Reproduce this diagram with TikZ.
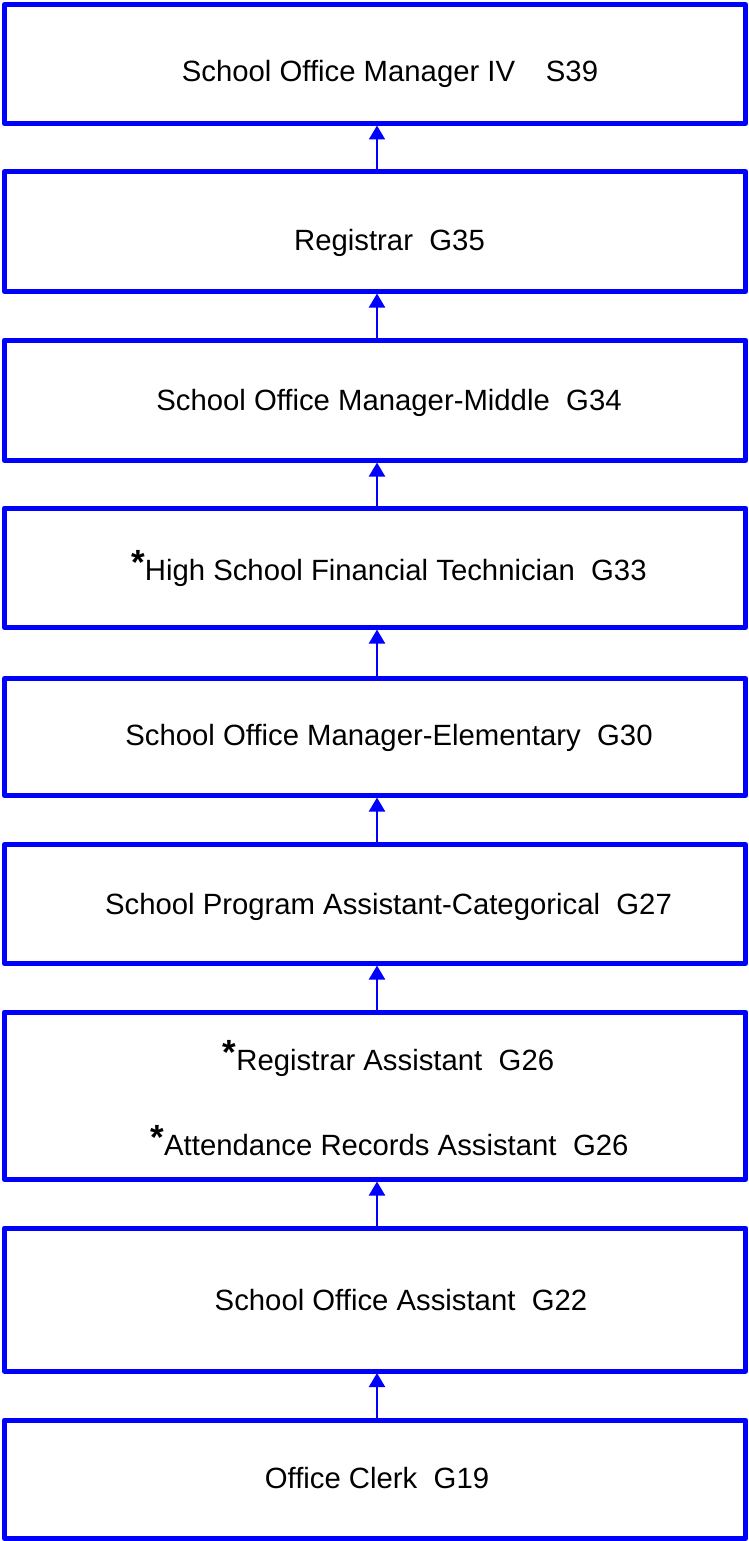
\documentclass[tikz,border=0pt]{standalone}
\usepackage{fontspec}
\setmainfont{Liberation Sans}
\usetikzlibrary{arrows.meta}
\definecolor{boxblue}{RGB}{0,0,255}
\newcommand{\mystar}{\raisebox{6pt}{\fontsize{35}{35}\selectfont\bfseries *}}
\newcommand{\gap}{\hspace{0.56em}}
\begin{document}
\begin{tikzpicture}[x=1pt,y=-1pt,
  box/.style={draw=boxblue,line width=5pt,line join=round,inner sep=0pt,outer sep=0pt,minimum width=741pt},
  lbl/.style={anchor=base,inner sep=0pt,font=\fontsize{29.3}{34}\selectfont},
  arr/.style={draw=boxblue,line width=2pt,-{Triangle[length=14pt,width=16pt]},shorten >=2pt}]
\useasboundingbox (0,0) rectangle (748,1541);
\node[box,minimum height=119pt] (b1) at (375,64) {};
\node[box,minimum height=120pt] (b2) at (375,231.5) {};
\node[box,minimum height=120.5pt] (b3) at (375,400.25) {};
\node[box,minimum height=119.5pt] (b4) at (375,567.75) {};
\node[box,minimum height=117pt] (b5) at (375,737) {};
\node[box,minimum height=119pt] (b6) at (375,904) {};
\node[box,minimum height=167.5pt] (b7) at (375,1095.75) {};
\node[box,minimum height=143pt] (b8) at (375,1299.5) {};
\node[box,minimum height=118.5pt] (b9) at (375,1479.25) {};
\node[lbl] (t1) at (390,82) {School Office Manager IV\hspace{1.05em}S39};
\node[lbl] (t2) at (389.5,250) {Registrar\gap G35};
\node[lbl] (t3) at (389,410) {School Office Manager-Middle\gap G34};
\node[lbl] (t4) at (389,580) {\mystar High School Financial Technician\gap G33};
\node[lbl] (t5) at (389,745) {School Office Manager-Elementary\gap G30};
\node[lbl] (t6) at (388.5,914) {School Program Assistant-Categorical\gap G27};
\node[lbl] (t7a) at (388.5,1070) {\mystar Registrar Assistant\gap G26};
\node[lbl] (t7b) at (389.5,1155) {\mystar Attendance Records Assistant\gap G26};
\node[lbl] (t8) at (401,1310) {School Office Assistant\gap G22};
\node[lbl] (t9) at (377,1488) {Office Clerk\gap G19};
\coordinate (ax) at (377,0);
\draw[arr] (b2.north -| ax) -- (b1.south -| ax);
\draw[arr] (b3.north -| ax) -- (b2.south -| ax);
\draw[arr] (b4.north -| ax) -- (b3.south -| ax);
\draw[arr] (b5.north -| ax) -- (b4.south -| ax);
\draw[arr] (b6.north -| ax) -- (b5.south -| ax);
\draw[arr] (b7.north -| ax) -- (b6.south -| ax);
\draw[arr] (b8.north -| ax) -- (b7.south -| ax);
\draw[arr] (b9.north -| ax) -- (b8.south -| ax);
\end{tikzpicture}
\end{document}
